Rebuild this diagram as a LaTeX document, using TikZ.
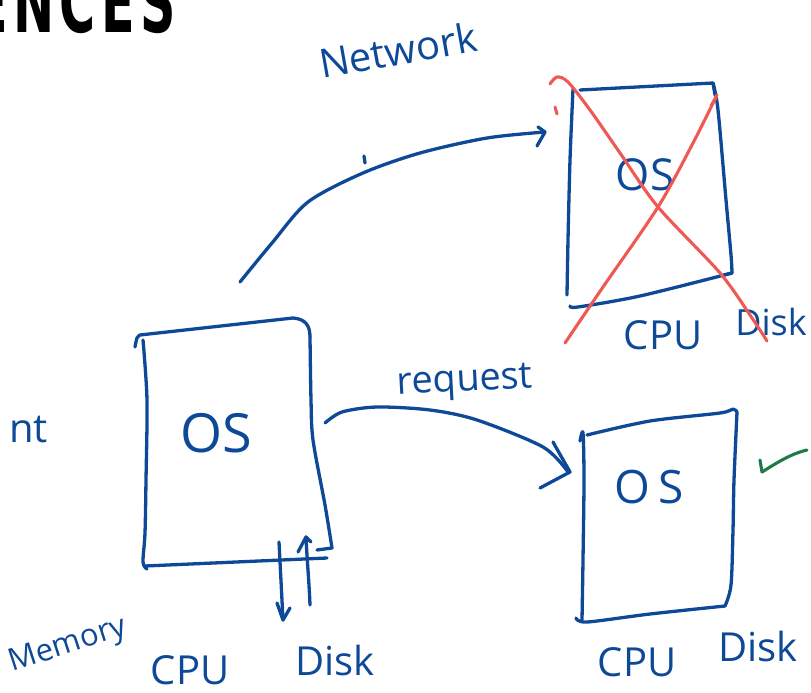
\documentclass[tikz,border=0pt]{standalone}
\usepackage{fontspec}
\setmainfont{Open Sans}
\newfontfamily\headfont{DejaVu Sans Condensed}[LetterSpace=10]
\usetikzlibrary{calc}
\definecolor{inkblue}{RGB}{14,73,152}
\definecolor{inkred}{RGB}{240,88,84}
\definecolor{inkgreen}{RGB}{30,122,72}
\newcommand{\fsz}[1]{\fontsize{#1}{#1}\selectfont}
\tikzset{
  pen/.style={draw=inkblue, line width=3.3pt, line cap=round, line join=round},
  redpen/.style={draw=inkred, line width=3.1pt, line cap=round, line join=round},
  greenpen/.style={draw=inkgreen, line width=3.1pt, line cap=round, line join=round},
  hand/.style={text=inkblue, inner sep=0pt},
}
\begin{document}
\begin{tikzpicture}[x=1pt, y=-1pt]
\useasboundingbox (0,0) rectangle (811,693);
\clip (0,0) rectangle (811,693);

% slide title, cut off by the page edge
\node[anchor=base east, inner sep=0pt, font=\headfont\bfseries\fsz{84}, xscale=0.65, transform shape] (title) at (176,33) {ENCES};

% ---------- crossed-out server (top right) ----------
\coordinate (tl1) at (573,89);
\coordinate (tr1) at (713,83);
\coordinate (br1) at (732,273);
\coordinate (bl1) at (570,306);
\draw[pen] plot[smooth] coordinates {(tl1) (570,160) (568,240) (567,295)};
\draw[pen] (580,90) -- (tr1) -- (715,95);
\draw[pen] plot[smooth] coordinates {(tr1) (718,110) (726,200) (731,255) (br1)} -- (724,275);
\draw[pen] plot[smooth] coordinates {(bl1) (578,307) (640,296) (br1)};
\node[hand, font=\fsz{44}] (os1) at (645,175) {OS};
\node[hand, font=\fsz{40}] (cpu1) at (663,335) {CPU};
\node[hand, font=\fsz{36}] (disk1) at (771,322) {Disk};

% red cross over it
\draw[redpen] plot[smooth] coordinates {(550,84) (557,77) (568,82) (590,110) (620,153) (658,207) (720,273) (752,318) (767,341)};
\draw[redpen] plot[smooth] coordinates {(565,343) (603,287) (658,207) (693,143) (717,95)} -- (711,106);
\draw[redpen] (555,107) -- (557,114);

% ---------- server on the left ----------
\coordinate (tl2) at (140,335);
\coordinate (tr2) at (293,318);
\coordinate (br2) at (332,548);
\coordinate (bl2) at (145,566);
\draw[pen] plot[smooth] coordinates {(135,347) (137,338) (tl2)} -- (tr2)
  .. controls (305,319) and (310,325) .. (310,337);
\draw[pen] plot[smooth] coordinates {(310,337) (311,400) (313,440) (325,505) (br2)} -- (317,550);
\draw[pen] plot[smooth] coordinates {(143,340) (147,400) (146,480) (145,533) (143,562) (147,569)};
\draw[pen] (bl2) -- (327,558);
\node[hand, font=\fsz{54}] (os2) at (216,433) {OS};

% arrows to and from the disk
\coordinate (dtop) at (279,542);
\coordinate (dbot) at (283,620);
\coordinate (ubot) at (310,605);
\coordinate (utop) at (306,537);
\draw[pen] (dtop) -- (dbot);
\draw[pen] (277,603) -- (dbot) -- (290,608);
\draw[pen] (ubot) .. controls (309,580) and (307,560) .. (utop);
\draw[pen] (298,552) -- (utop) -- (311,542);

\node[hand, font=\fsz{31}, rotate=18] (mem) at (68,646) {Memory};
\node[hand, font=\fsz{40}] (cpu2) at (190,670) {CPU};
\node[hand, font=\fsz{40}] (disk2) at (335,660) {Disk};
\node[hand, font=\fsz{40}, anchor=east] (cli) at (48,430) {nt};

% ---------- healthy server (bottom right) ----------
\coordinate (tl3) at (587,435);
\coordinate (tr3) at (737,412);
\coordinate (br3) at (725,606);
\coordinate (bl3) at (582,620);
\draw[pen] plot[smooth] coordinates {(tl3) (650,421) (720,413) (733,409) (tr3)};
\draw[pen] plot[smooth] coordinates {(tr3) (734,480) (733,530) (731,585) (br3)};
\draw[pen] plot[smooth] coordinates {(br3) (650,614) (587,622) (576,618)};
\draw[pen] plot[smooth] coordinates {(580,441) (583,433) (584,480) (583,560) (bl3)};
\node[hand, font=\fsz{46}] (os3) at (649,487) {O\,S};
\node[hand, font=\fsz{40}] (cpu3) at (637,662) {CPU};
\node[hand, font=\fsz{40}] (disk3) at (758,646) {Disk};
\draw[greenpen] (760,460) -- (762,472) .. controls (775,464) and (790,454) .. (807,450);

% ---------- connectors ----------
% network link to the crossed-out server
\coordinate (nstart) at (240,282);
\coordinate (nend) at (545,132);
\draw[pen] plot[smooth] coordinates {(nstart) (272,243) (308,202) (363,173) (420,153) (487,138) (nend)};
\draw[pen] (538,127) -- (nend) -- (537,146);
\draw[pen] (364,156) -- (365,163);
\node[hand, font=\fsz{40}, rotate=10] (net) at (398,50) {Network};

% request to the healthy server
\coordinate (rstart) at (325,423);
\coordinate (rend) at (568,472);
\draw[pen] plot[smooth] coordinates {(rstart) (342,412) (377,407) (430,410) (477,420) (543,447) (rend)};
\draw[pen] (553,442) -- (570,472) -- (540,488);
\node[hand, font=\fsz{38}, rotate=3] (req) at (465,383) {request};
\end{tikzpicture}
\end{document}
